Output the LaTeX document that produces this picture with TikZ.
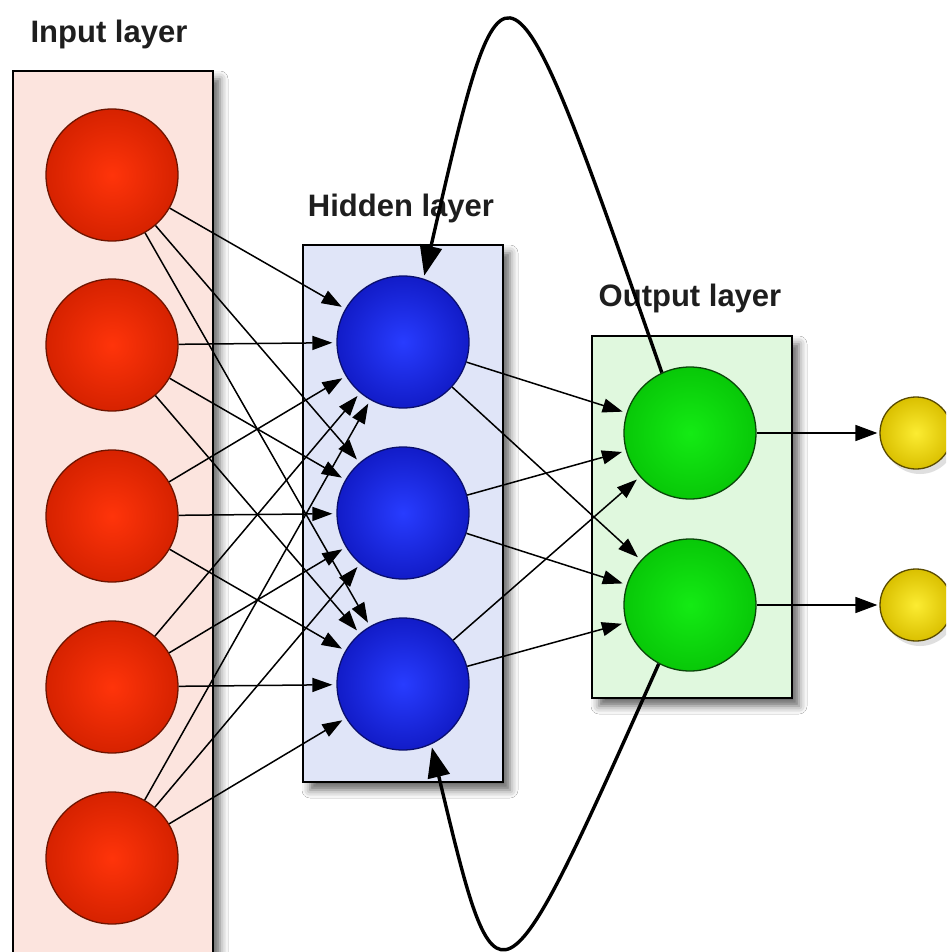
\documentclass[tikz,border=0pt]{standalone}
\usepackage{fontspec}
\setmainfont{Liberation Sans}
\usetikzlibrary{arrows.meta,shadows.blur}
\definecolor{inboxfill}{RGB}{252,228,222}
\definecolor{hidboxfill}{RGB}{224,229,248}
\definecolor{outboxfill}{RGB}{224,248,222}
\definecolor{redin}{RGB}{255,52,10}
\definecolor{redout}{RGB}{214,34,0}
\definecolor{redline}{RGB}{110,20,0}
\definecolor{bluein}{RGB}{40,60,255}
\definecolor{blueout}{RGB}{18,28,200}
\definecolor{blueline}{RGB}{10,15,110}
\definecolor{greenin}{RGB}{20,235,20}
\definecolor{greenout}{RGB}{8,200,8}
\definecolor{greenline}{RGB}{10,70,10}
\definecolor{yelin}{RGB}{252,236,50}
\definecolor{yelout}{RGB}{218,192,0}
\definecolor{yelline}{RGB}{90,75,0}
\definecolor{labeltext}{RGB}{30,30,30}
\begin{document}
\begin{tikzpicture}[x=1pt,y=-1pt,
  layerbox/.style={draw=black, line width=1.8pt, inner sep=0pt,
    blur shadow={shadow xshift=7pt, shadow yshift=-8pt, shadow blur radius=8pt, shadow opacity=60}},
  layerlabel/.style={anchor=base, inner sep=0pt, text=labeltext,
    font=\fontsize{31}{36}\selectfont\bfseries},
  neuron/.style={circle, minimum size=132pt, inner sep=0pt, line width=1.3pt},
  inneuron/.style={neuron, draw=redline, inner color=redin, outer color=redout},
  hidneuron/.style={neuron, draw=blueline, inner color=bluein, outer color=blueout},
  outneuron/.style={neuron, draw=greenline, inner color=greenin, outer color=greenout},
  resneuron/.style={circle, minimum size=72pt, inner sep=0pt, line width=1.3pt,
    draw=yelline, inner color=yelin, outer color=yelout,
    drop shadow={shadow xshift=4pt, shadow yshift=-5pt, opacity=0.25}},
  conn/.style={line width=1.5pt, -{Triangle[length=20pt,width=14pt]}, shorten >=4pt},
  outconn/.style={line width=1.6pt, -{Triangle[length=22pt,width=16pt]}, shorten >=2pt},
  loopconn/.style={line width=3.4pt, -{Triangle[length=30pt,width=22pt]}, shorten >=3pt}
]
\useasboundingbox (0,0) rectangle (946,952);
\clip (0,0) rectangle (946,952);
\fill[white] (0,0) rectangle (946,952);

% layer boxes
\node[layerbox, fill=inboxfill, minimum width=200pt, minimum height=900pt] (inbox) at (113,521) {};
\node[layerbox, fill=hidboxfill, minimum width=200pt, minimum height=537pt] (hidbox) at (403,513.5) {};
\node[layerbox, fill=outboxfill, minimum width=200pt, minimum height=362pt] (outbox) at (692,517) {};

% labels
\node[layerlabel] (inlabel) at (109,43) {Input layer};
\node[layerlabel] (hidlabel) at (401,216) {Hidden layer};
\node[layerlabel] (outlabel) at (690,306) {Output layer};

% neurons
\node[inneuron] (i1) at (112,175) {};
\node[inneuron] (i2) at (112,345) {};
\node[inneuron] (i3) at (112,516) {};
\node[inneuron] (i4) at (112,687) {};
\node[inneuron] (i5) at (112,858) {};
\node[hidneuron] (h1) at (403,342) {};
\node[hidneuron] (h2) at (403,513) {};
\node[hidneuron] (h3) at (403,684) {};
\node[outneuron] (o1) at (690,433) {};
\node[outneuron] (o2) at (690,605) {};
\node[resneuron] (r1) at (916,433) {};
\node[resneuron] (r2) at (916,605) {};

% input -> hidden
\foreach \i in {1,...,5}{
  \foreach \h in {1,2,3}{
    \draw[conn] (i\i) -- (h\h);
  }
}
% hidden -> output
\foreach \h in {1,2,3}{
  \foreach \o in {1,2}{
    \draw[conn] (h\h) -- (o\o);
  }
}
% output -> result
\draw[outconn] (o1) -- (r1);
\draw[outconn] (o2) -- (r2);

% recurrent loops
\draw[loopconn] (o1.115) .. controls (505,-77) .. (h1.72);
\draw[loopconn] (o2.-118) .. controls (498,1024) .. (h3.-65);
\end{tikzpicture}
\end{document}
